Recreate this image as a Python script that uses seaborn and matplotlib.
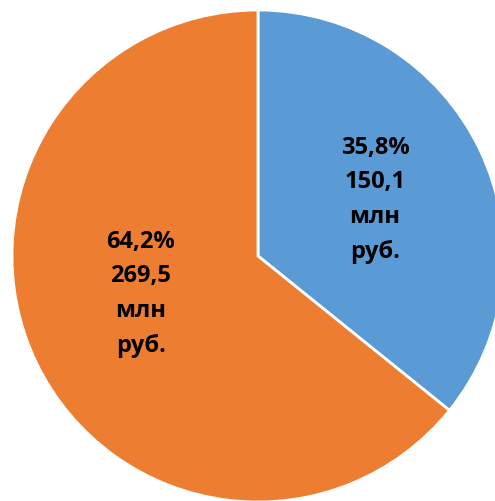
import matplotlib
matplotlib.use("Agg")
import seaborn as sns
from matplotlib import pyplot as plt

# Данные диаграммы
shares = [35.8, 64.2]
values = ["150,1", "269,5"]
colors = ["#5B9BD5", "#ED7D31"]
label_pos = [(0.476, 0.232), (-0.476, -0.150)]

sns.set_theme(style="white")
plt.rcParams['font.family'] = ['Open Sans', 'DejaVu Sans']

fig = plt.figure(figsize=(4.95, 5.02), dpi=100)
# Оси подогнаны так, чтобы круг был обрезан справа и снизу
ax = fig.add_axes([12 / 495, -1 / 502, 492 / 495, 492 / 502])

wedges, _ = ax.pie(
    shares,
    colors=colors,
    startangle=90,
    counterclock=False,
    radius=1,
    wedgeprops={'edgecolor': 'white', 'linewidth': 2},
)

# Подписи долей
for share, val, (x, y) in zip(shares, values, label_pos):
    txt = f"{share:.1f}%".replace(".", ",") + f"\n{val}\nмлн\nруб."
    ax.text(x, y, txt, ha='center', va='center', fontsize=17,
            fontweight='bold', color='black', linespacing=1.6)

ax.set_xlim(-1, 1)
ax.set_ylim(-1, 1)
ax.set_aspect('equal')
ax.axis('off')

plt.savefig("out.png", dpi=100)
plt.close()
